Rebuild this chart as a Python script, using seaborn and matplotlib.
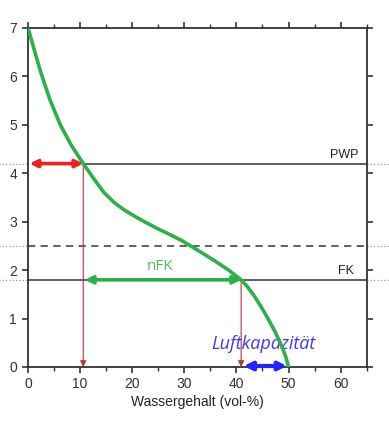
import numpy as np
import pandas as pd
import seaborn as sns
import matplotlib.pyplot as plt

# pF-Kurve: Wassergehalt (vol-%) gegen pF
wassergehalt = [0, 1.2, 2.4, 4.2, 6.2, 8.3, 10.6, 12.8, 14.6, 16.5, 18.5, 20.5, 22.5,
                25.0, 27.5, 29.5, 31.2, 33.5, 36.0, 38.5, 40.9, 42.0, 43.2, 44.3,
                45.3, 46.3, 47.3, 48.2, 48.9, 49.5, 50.0]
pf_wert = [7.0, 6.55, 6.1, 5.52, 5.0, 4.58, 4.2, 3.86, 3.6, 3.4, 3.24, 3.11, 2.99,
           2.85, 2.72, 2.61, 2.5, 2.35, 2.18, 2.0, 1.8, 1.67, 1.5, 1.32,
           1.14, 0.95, 0.75, 0.55, 0.37, 0.2, 0.0]

pwp_pf, fk_pf, grenze_pf = 4.2, 1.8, 2.5
pwp_x, fk_x, gpv_x = 10.6, 40.9, 50.0

sns.set_style("ticks")
plt.rcParams['font.family'] = ['Liberation Sans', 'DejaVu Sans']

fig = plt.figure(figsize=(3.89, 4.47), dpi=100)
ax = fig.add_axes([0.072, 0.179, 0.8707, 0.7584])

df = pd.DataFrame({'w': wassergehalt, 'pf': pf_wert})

# Hilfslinien
grau = '#9a9a9a'
for yv in [pwp_pf, grenze_pf, fk_pf]:
    ax.plot([-30, 0], [yv, yv], color=grau, lw=0.9, ls=':', clip_on=False, zorder=0)
    ax.plot([65, 75], [yv, yv], color=grau, lw=0.9, ls=':', clip_on=False, zorder=0)
ax.plot([pwp_x, 65], [pwp_pf, pwp_pf], color='#333333', lw=1.1, zorder=2)
ax.plot([0, 65], [fk_pf, fk_pf], color='#333333', lw=1.1, zorder=2)
ax.plot([0, 65], [grenze_pf, grenze_pf], color='#555555', lw=1.3, ls=(0, (4, 3)), zorder=2)

# rote Senkrechte mit Pfeilspitze
for xv, yv in [(pwp_x, pwp_pf), (fk_x, fk_pf)]:
    ax.annotate('', xy=(xv, 0), xytext=(xv, yv),
                arrowprops=dict(arrowstyle='-|>', color='#c0303a', lw=0.8,
                                mutation_scale=9, shrinkA=0, shrinkB=0), zorder=3)

sns.lineplot(data=df, x='w', y='pf', color='#2db04b', lw=2.6, ax=ax, zorder=4, sort=False)
ax.lines[-1].set_solid_joinstyle('round')

# Doppelpfeile
ax.annotate('', xy=(0.3, pwp_pf), xytext=(pwp_x, pwp_pf),
            arrowprops=dict(arrowstyle='<|-|>', color='#ee2020', lw=2.6,
                            mutation_scale=11, shrinkA=0, shrinkB=0), zorder=5)
ax.annotate('', xy=(pwp_x + 0.3, fk_pf), xytext=(fk_x, fk_pf),
            arrowprops=dict(arrowstyle='<|-|>', color='#2db04b', lw=2.6,
                            mutation_scale=11, shrinkA=0, shrinkB=0), zorder=5)
ax.annotate('', xy=(fk_x + 0.5, 0.02), xytext=(gpv_x - 0.3, 0.02),
            arrowprops=dict(arrowstyle='<|-|>', color='#2323ff', lw=3.0,
                            mutation_scale=12, shrinkA=0, shrinkB=0), zorder=5, annotation_clip=False)

ax.text(63.5, pwp_pf + 0.06, 'PWP', ha='right', va='bottom', fontsize=9, color='#222222')
ax.text(62.5, fk_pf + 0.06, 'FK', ha='right', va='bottom', fontsize=9, color='#222222')
ax.text(25.4, fk_pf + 0.12, 'nFK', ha='center', va='bottom', fontsize=11,
        color='#5cb85c', family=['Open Sans', 'DejaVu Sans'])
ax.text(45.2, 0.47, 'Luftkapazität', ha='center', va='center', fontsize=13,
        color='#3a3aff', style='italic', family=['Open Sans', 'DejaVu Sans'])

ax.set_xlim(0, 65)
ax.set_ylim(0, 7)
ax.set_xticks([0, 10, 20, 30, 40, 50, 60])
ax.set_xticks([5, 15, 25, 35, 45, 55, 65], minor=True)
ax.set_yticks(range(8))
ax.set_xlabel('Wassergehalt (vol-%)', fontsize=10, color='#222222', labelpad=3)
ax.set_ylabel('')

for s in ax.spines.values():
    s.set_color('#333333')
    s.set_linewidth(1.3)
ax.tick_params(axis='both', which='major', direction='out', length=4, width=1.2,
               colors='#333333', labelsize=10, pad=3,
               top=True, right=True, labeltop=False, labelright=False)
ax.tick_params(axis='x', which='minor', direction='out', length=3, width=1.0,
               colors='#333333', top=True)
ax.tick_params(axis='y', which='major', pad=4)

fig.savefig('out.png', dpi=100)
